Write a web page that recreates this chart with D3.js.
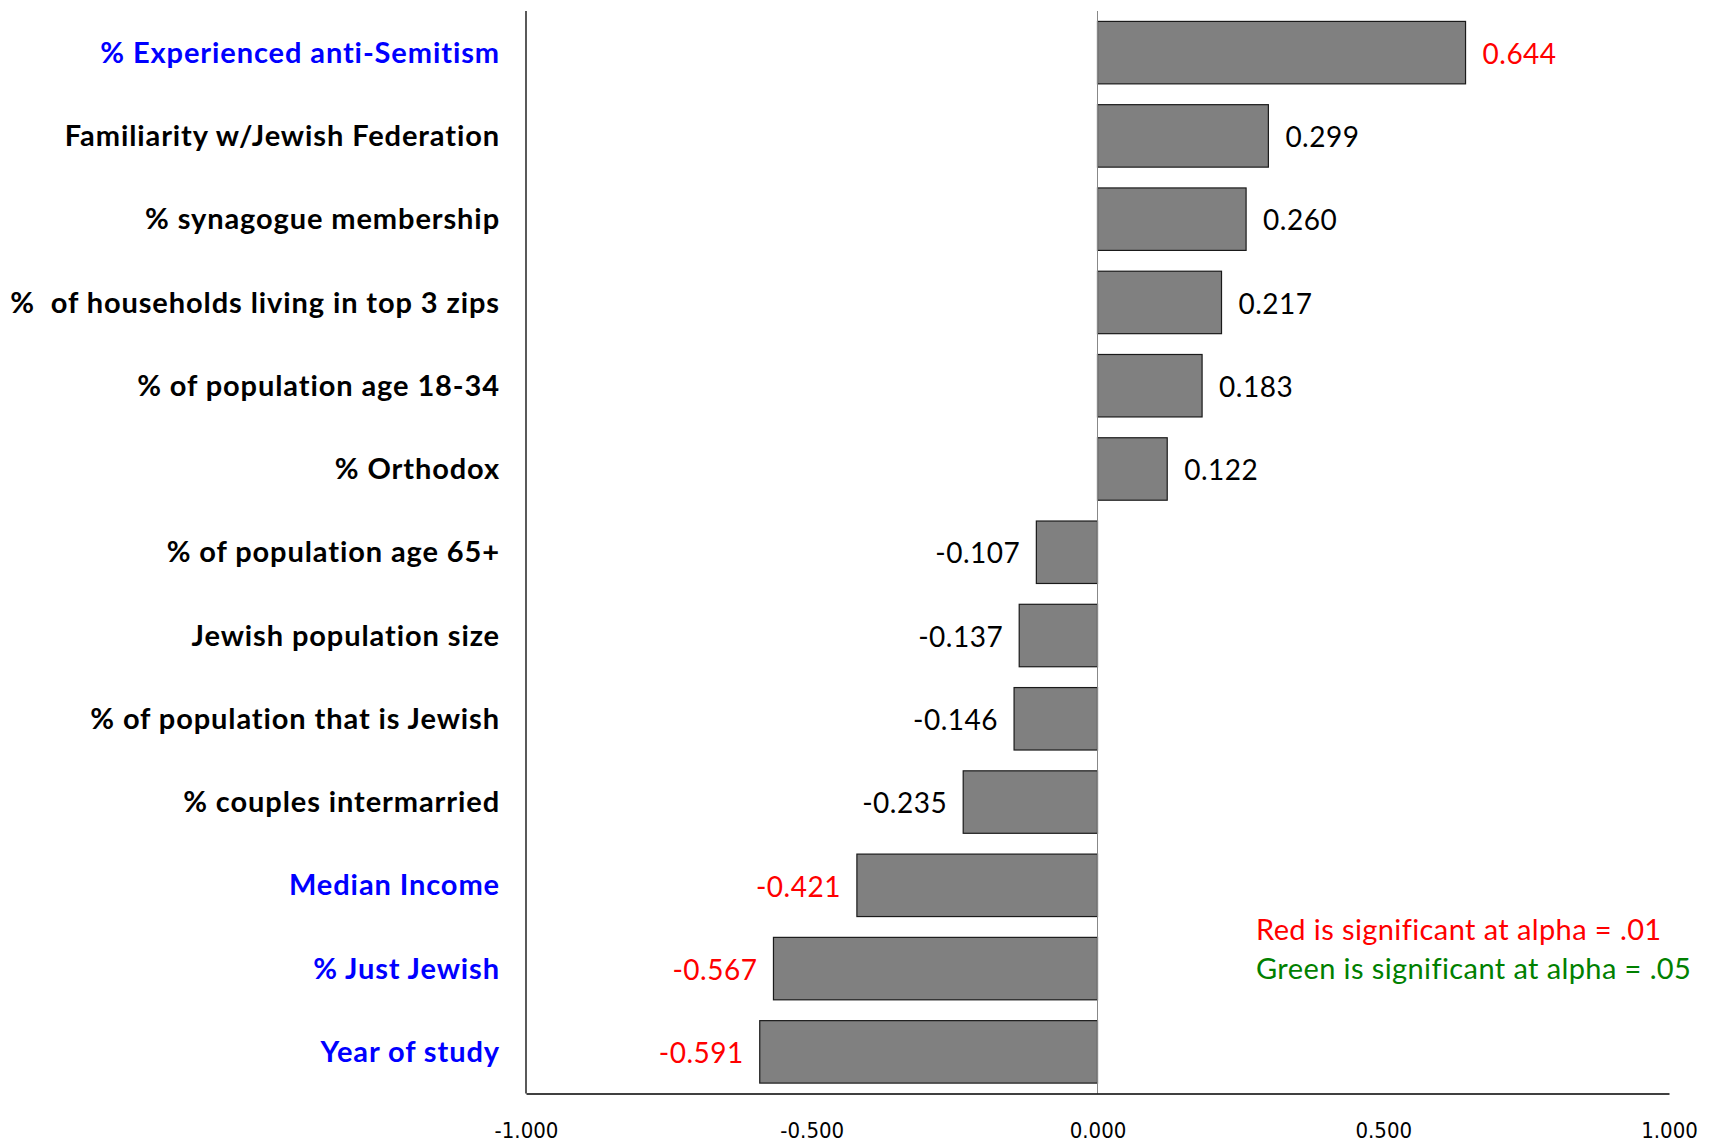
<!DOCTYPE html>
<html>
<head>
<meta charset="utf-8">
<script src="https://cdn.jsdelivr.net/npm/d3@7"></script>
<style>
  body { margin: 0; background: #fff; }
  svg { display: block; }
</style>
</head>
<body>
<svg width="1718" height="1142"></svg>
<script>
// categories, top to bottom
const categories = [
    "% Experienced anti-Semitism",
    "Familiarity w/Jewish Federation",
    "% synagogue membership",
    "%  of households living in top 3 zips",
    "% of population age 18-34",
    "% Orthodox",
    "% of population age 65+",
    "Jewish population size",
    "% of population that is Jewish",
    "% couples intermarried",
    "Median Income",
    "% Just Jewish",
    "Year of study"
];
const values = [0.644, 0.299, 0.260, 0.217, 0.183, 0.122, -0.107, -0.137, -0.146, -0.235, -0.421, -0.567, -0.591];
// significance: "r" = red (.01), "" = not significant
const signif = ["r", "", "", "", "", "", "", "", "", "", "r", "r", "r"];
// categories highlighted in blue
const blueCats = ["% Experienced anti-Semitism", "Median Income", "% Just Jewish", "Year of study"];
const tickValues = [-1, -0.5, 0, 0.5, 1];
const legendLines = ["Red is significant at alpha = .01", "Green is significant at alpha = .05"];

const svg = d3.select("svg");
const area = { left: 526, right: 1669, top: 11, bottom: 1093.5 };

const scX = d3.scaleLinear().domain([-1, 1]).range([area.left, area.right]);
const scY = d3.scaleBand().domain(categories).range([area.top, area.bottom])
    .paddingInner(0.25).paddingOuter(0.125);

// bars
svg.selectAll(".bar")
    .data(values)
    .enter()
    .append("rect")
    .attr("x", d => scX(Math.min(0, d)))
    .attr("y", (d, i) => scY(categories[i]))
    .attr("width", d => Math.abs(scX(d) - scX(0)))
    .attr("height", scY.bandwidth())
    .style("fill", "#808080")
    .style("stroke", "#1a1a1a")
    .style("stroke-width", 1.2);

// zero line
svg.append("line")
    .attr("x1", scX(0)).attr("x2", scX(0))
    .attr("y1", area.top).attr("y2", area.bottom)
    .style("stroke", "#888").style("stroke-width", 1);

// axes
const axisX = d3.axisBottom(scX).tickValues(tickValues).tickSize(0).tickFormat(d3.format(".3f"));
const gx = svg.append("g")
    .attr("transform", `translate(0, ${area.bottom})`)
    .call(axisX);
gx.select(".domain").style("stroke", "#000").style("stroke-width", 1.3);
gx.selectAll("text")
    .attr("dy", "0")
    .attr("y", 44)
    .style("font-family", "'DejaVu Sans Condensed', 'DejaVu Sans', sans-serif")
    .style("font-size", "22px")
    .style("fill", "#000")
    .text(d => d3.format(".3f")(d).replace("−", "-"));

svg.append("line")
    .attr("x1", area.left).attr("x2", area.left)
    .attr("y1", area.top).attr("y2", area.bottom)
    .style("stroke", "#000").style("stroke-width", 1.3);

// category labels
svg.selectAll(".cat")
    .data(categories)
    .enter()
    .append("text")
    .attr("x", 500)
    .attr("y", d => scY(d) + scY.bandwidth() / 2)
    .attr("dy", "0.35em")
    .attr("text-anchor", "end")
    .style("font-family", "Lato, sans-serif")
    .style("font-weight", "bold")
    .style("font-size", "29px")
    .style("letter-spacing", "0.9px")
    .style("fill", d => blueCats.includes(d) ? "#0000ff" : "#000")
    .style("white-space", "pre")
    .text(d => d);

// value labels
svg.selectAll(".val")
    .data(values)
    .enter()
    .append("text")
    .attr("x", d => d >= 0 ? scX(d) + 17 : scX(d) - 16)
    .attr("y", (d, i) => scY(categories[i]) + scY.bandwidth() / 2)
    .attr("dy", "0.4em")
    .attr("text-anchor", d => d >= 0 ? "start" : "end")
    .style("font-family", "Lato, sans-serif")
    .style("font-size", "28px")
    .style("letter-spacing", "0.5px")
    .style("fill", (d, i) => signif[i] === "r" ? "#ff0000" : (signif[i] === "g" ? "#008000" : "#000"))
    .text(d => d3.format(".3f")(d).replace("−", "-"));

// legend
svg.selectAll(".leg")
    .data(legendLines)
    .enter()
    .append("text")
    .attr("x", 1256)
    .attr("y", (d, i) => 940 + i * 39)
    .style("font-family", "Lato, sans-serif")
    .style("font-size", "29px")
    .style("letter-spacing", "0.4px")
    .style("fill", (d, i) => i === 0 ? "#ff0000" : "#008000")
    .text(d => d);
</script>
</body>
</html>
